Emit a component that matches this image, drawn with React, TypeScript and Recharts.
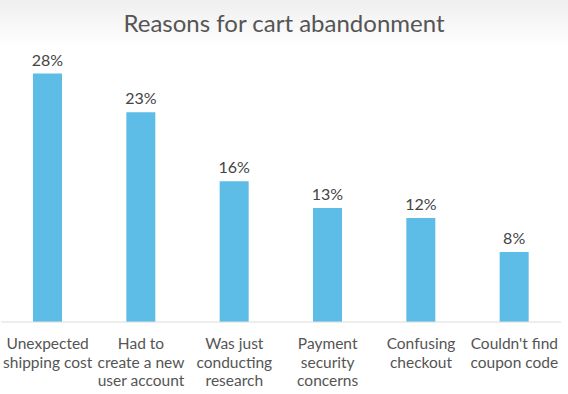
import React from 'react';
import { BarChart, Bar, XAxis, YAxis, LabelList } from 'recharts';

const categories = [
  'Unexpected\nshipping cost',
  'Had to\ncreate a new\nuser account',
  'Was just\nconducting\nresearch',
  'Payment\nsecurity\nconcerns',
  'Confusing\ncheckout',
  "Couldn't find\ncoupon code",
];
const values = [27.7, 23.4, 15.7, 12.7, 11.6, 7.8];
const yDomain = [0, 30];

const data = categories.map((c, i) => ({ name: c, value: values[i] }));

const FONT = 'Lato, "Open Sans", sans-serif';

const CategoryTick = (props: any) => {
  const { x, y, payload } = props;
  const lines = String(payload.value).split('\n');
  return (
    <text x={x} y={y} textAnchor="middle" fill="#555" fontSize={15.5} fontFamily={FONT}>
      {lines.map((l, i) => (
        <tspan key={i} x={x} dy={i === 0 ? 27 : 18.5}>
          {l}
        </tspan>
      ))}
    </text>
  );
};

export default function App() {
  return (
    <div
      style={{
        position: 'absolute',
        left: 0,
        top: 0,
        width: 568,
        height: 394,
        background: 'linear-gradient(#efefef 0px, #ffffff 48px)',
        fontFamily: FONT,
      }}
    >
      <div
        style={{
          position: 'absolute',
          left: 0,
          top: 8,
          width: 568,
          textAlign: 'center',
          fontSize: 24,
          color: '#555',
          fontFamily: FONT,
        }}
      >
        Reasons for cart abandonment
      </div>
      <BarChart
        width={568}
        height={394}
        data={data}
        margin={{ top: 53, right: 7, bottom: 0, left: 1 }}
      >
        <XAxis
          dataKey="name"
          interval={0}
          height={72}
          tickSize={0}
          tickMargin={0}
          tickLine={false}
          axisLine={{ stroke: '#dcdcdc', strokeWidth: 1 }}
          tick={<CategoryTick />}
        />
        <YAxis hide domain={yDomain} />
        <Bar dataKey="value" fill="#5ebde6" barSize={29} isAnimationActive={false}>
          <LabelList
            dataKey="value"
            position="top"
            offset={8}
            formatter={(v: any) => `${Math.round(Number(v))}%`}
            style={{ fill: '#444', fontSize: 16, fontFamily: FONT }}
          />
        </Bar>
      </BarChart>
    </div>
  );
}
